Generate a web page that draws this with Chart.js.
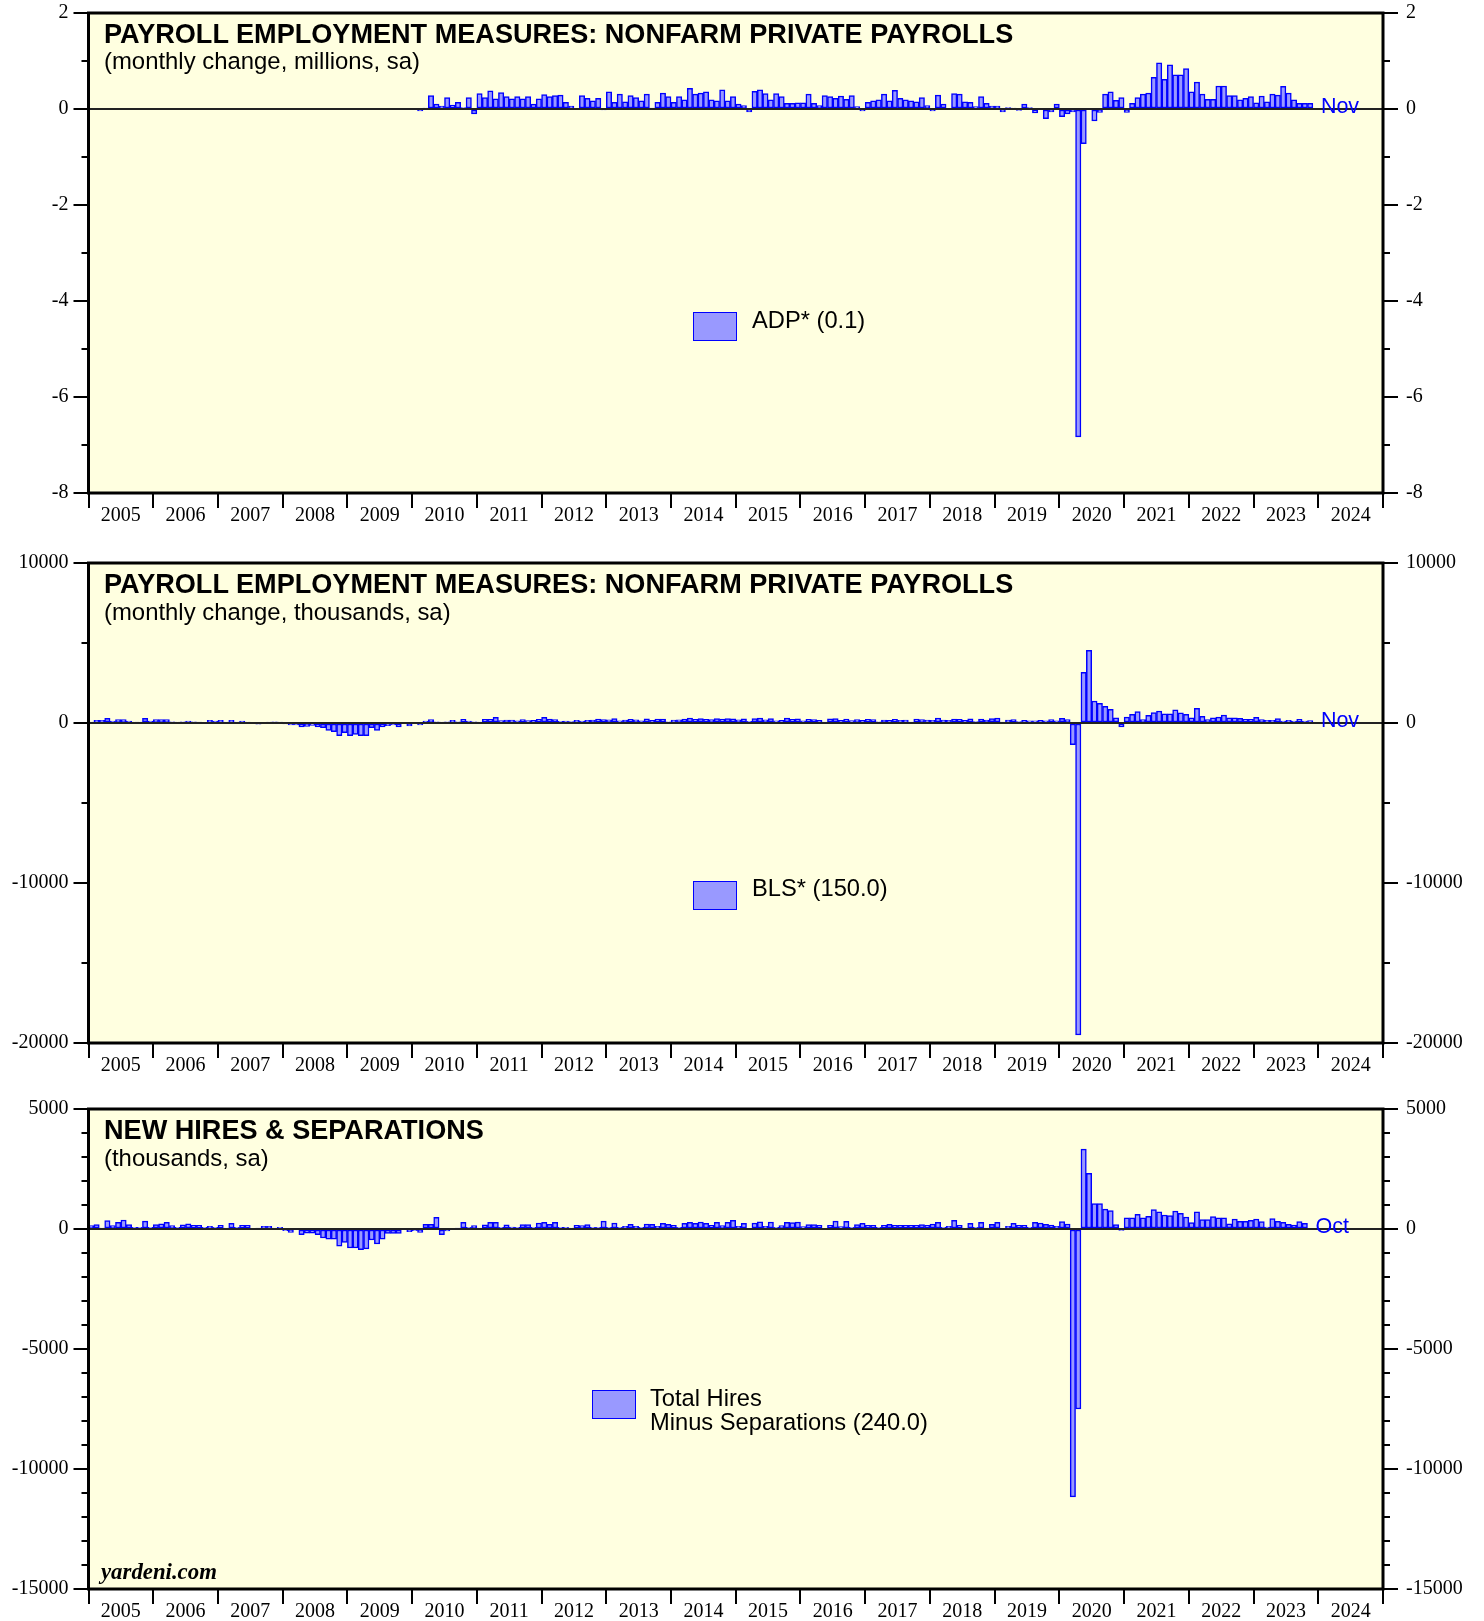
<!DOCTYPE html>
<html>
<head>
<meta charset="utf-8">
<title>Payroll Employment Measures</title>
<script src="https://cdn.jsdelivr.net/npm/chart.js@4.4.1/dist/chart.umd.min.js"></script>
<style>
  html, body { margin: 0; padding: 0; background: #fff; }
  #page { position: relative; width: 1484px; height: 1621px; overflow: hidden; }
  canvas { position: absolute; left: 0; }
  .txt { position: absolute; white-space: nowrap; line-height: 1; font-family: "Liberation Sans", Arial, sans-serif; color: #000; z-index: 2; }
  .titulo { font-size: 27.1px; font-weight: bold; }
  .sub { font-size: 23.9px; }
  .leg { font-size: 23.7px; }
  .caixa { position: absolute; width: 44px; height: 29px; box-sizing: border-box; background: #9999ff; border: 1.5px solid #0000ff; z-index: 2; }
  .marca { font-family: "Liberation Serif", serif; font-weight: bold; font-style: italic; font-size: 22.8px; }
</style>
</head>
<body>
<div id="page">
  <canvas id="grafico-adp" width="1484" height="560" style="top:-17px"></canvas>
  <canvas id="grafico-bls" width="1484" height="560" style="top:532px"></canvas>
  <canvas id="grafico-jolts" width="1484" height="542" style="top:1079px"></canvas>

  <div class="txt titulo" style="left:104px; top:20px">PAYROLL EMPLOYMENT MEASURES: NONFARM PRIVATE PAYROLLS</div>
  <div class="txt sub" style="left:104px; top:49px">(monthly change, millions, sa)</div>
  <div class="caixa" style="left:693px; top:312px"></div>
  <div class="txt leg" style="left:752px; top:309px">ADP* (0.1)</div>

  <div class="txt titulo" style="left:104px; top:570px">PAYROLL EMPLOYMENT MEASURES: NONFARM PRIVATE PAYROLLS</div>
  <div class="txt sub" style="left:104px; top:600px">(monthly change, thousands, sa)</div>
  <div class="caixa" style="left:693px; top:881px"></div>
  <div class="txt leg" style="left:752px; top:877px">BLS* (150.0)</div>

  <div class="txt titulo" style="left:104px; top:1116px">NEW HIRES &amp; SEPARATIONS</div>
  <div class="txt sub" style="left:104px; top:1146px">(thousands, sa)</div>
  <div class="caixa" style="left:592px; top:1390px"></div>
  <div class="txt leg" style="left:650px; top:1387px">Total Hires</div>
  <div class="txt leg" style="left:650px; top:1411px">Minus Separations (240.0)</div>

  <div class="txt marca" style="left:101px; top:1561px">yardeni.com</div>
</div>

<script>
// --- DATA ---
const years = ['2005', '2006', '2007', '2008', '2009', '2010', '2011', '2012', '2013', '2014',
               '2015', '2016', '2017', '2018', '2019', '2020', '2021', '2022', '2023', '2024'];
const months = ['Jan', 'Feb', 'Mar', 'Apr', 'May', 'Jun', 'Jul', 'Aug', 'Sep', 'Oct', 'Nov', 'Dec'];

// ADP private payrolls, monthly change, millions (Feb 2010 - Nov 2023)
const adpStart = 'Feb 2010';
const adpValues = [
  -0.04, 0.02, 0.28, 0.10, 0.06, 0.24, 0.08, 0.14, 0.03, 0.24, -0.10,
  0.32, 0.24, 0.38, 0.21, 0.34, 0.26, 0.21, 0.26, 0.21, 0.26, 0.10, 0.21,
  0.30, 0.26, 0.28, 0.29, 0.14, 0.06, 0.00, 0.28, 0.22, 0.17, 0.22, -0.02,
  0.36, 0.14, 0.31, 0.15, 0.28, 0.24, 0.17, 0.31, 0.01, 0.14, 0.33, 0.26,
  0.14, 0.26, 0.19, 0.43, 0.31, 0.33, 0.36, 0.19, 0.17, 0.40, 0.17, 0.26,
  0.10, 0.07, -0.06, 0.37, 0.40, 0.32, 0.19, 0.32, 0.26, 0.12, 0.12, 0.13,
  0.13, 0.31, 0.12, 0.07, 0.28, 0.26, 0.22, 0.27, 0.20, 0.28, 0.05, -0.04,
  0.14, 0.17, 0.19, 0.31, 0.17, 0.39, 0.22, 0.19, 0.17, 0.15, 0.24, 0.07,
  -0.04, 0.29, 0.10, 0.00, 0.32, 0.31, 0.15, 0.14, 0.05, 0.26, 0.12, 0.06,
  0.06, -0.06, 0.03, 0.02, -0.03, 0.10, 0.03, -0.08, 0.00, -0.20, -0.06, 0.10,
  -0.16, -0.10, -0.06, -6.83, -0.72, 0.00, -0.25, -0.07, 0.31, 0.36, 0.18, 0.24,
  -0.07, 0.12, 0.24, 0.31, 0.33, 0.66, 0.96, 0.62, 0.92, 0.71, 0.71, 0.84,
  0.36, 0.56, 0.31, 0.20, 0.20, 0.48, 0.48, 0.28, 0.28, 0.19, 0.22, 0.26,
  0.13, 0.27, 0.15, 0.31, 0.29, 0.47, 0.33, 0.19, 0.12, 0.12, 0.12
];

// BLS private payrolls, monthly change, thousands (Jan 2005 - Nov 2023)
const blsStart = 'Jan 2005';
const blsValues = [
  40, 170, 170, 290, 125, 210, 210, 125, 40, 40, 290, 125,
  210, 210, 210, 80, 40, 80, 125, 80, 20, 0, 170, 125,
  170, 40, 170, 40, 125, 40, 0, -80, 0, 40, 80, 40,
  -60, -120, -125, -250, -210, -145, -250, -290, -460, -540, -790, -600,
  -790, -710, -790, -790, -290, -460, -250, -170, -125, -250, 0, -190,
  0, -125, 125, 210, 80, 40, 80, 170, 80, 230, 125, 80,
  40, 230, 230, 350, 150, 190, 180, 130, 220, 150, 160, 230,
  350, 250, 220, 100, 120, 90, 170, 120, 170, 190, 240, 220,
  200, 270, 140, 190, 230, 200, 130, 260, 160, 240, 250, 80,
  180, 200, 250, 310, 230, 280, 230, 210, 270, 240, 280, 260,
  200, 260, 100, 270, 310, 200, 270, 140, 160, 300, 230, 260,
  130, 230, 220, 160, 20, 260, 270, 160, 240, 150, 210, 160,
  230, 220, 70, 190, 160, 230, 170, 180, 20, 240, 210, 180,
  170, 310, 180, 170, 250, 230, 160, 260, 90, 250, 190, 280,
  310, 20, 180, 220, 90, 160, 140, 140, 160, 130, 220, 130,
  290, 210, -1360, -19500, 3170, 4540, 1375, 1230, 1040, 850, 330, -250,
  370, 540, 710, 210, 480, 650, 750, 580, 580, 830, 630, 540,
  330, 920, 420, 210, 330, 370, 500, 330, 330, 290, 230, 230,
  350, 210, 170, 170, 270, 120, 170, 120, 230, 120, 150
];

// JOLTS total hires minus separations, thousands (Jan 2005 - Oct 2023)
const joltsStart = 'Jan 2005';
const joltsValues = [
  140, 180, 40, 350, 140, 280, 375, 180, 70, 70, 330, 70,
  180, 220, 280, 140, 70, 170, 220, 150, 150, 70, 110, 70,
  150, 30, 240, 70, 150, 150, 0, 10, 110, 110, 40, 70,
  -70, -140, 0, -240, -170, -170, -240, -375, -420, -420, -720, -560,
  -790, -790, -860, -830, -460, -625, -420, -180, -180, -180, 0, -110,
  -70, -140, 195, 195, 485, -240, -80, 0, 10, 280, 70, 140,
  30, 170, 280, 280, 70, 170, 80, 70, 180, 180, 70, 250,
  280, 195, 280, 70, 70, 30, 150, 140, 180, 70, 70, 330,
  70, 250, 70, 110, 195, 110, 70, 210, 195, 110, 240, 195,
  150, 70, 240, 280, 240, 290, 240, 150, 280, 140, 280, 360,
  110, 240, 0, 250, 300, 110, 290, 70, 140, 280, 265, 290,
  100, 180, 180, 150, 0, 150, 330, 100, 320, 70, 180, 240,
  150, 150, 70, 150, 195, 150, 150, 150, 150, 150, 180, 150,
  210, 280, 70, 110, 360, 150, 30, 240, 70, 280, 30, 195,
  280, 0, 110, 240, 150, 150, 70, 280, 250, 195, 165, 110,
  305, 210, -11160, -7500, 3330, 2320, 1055, 1055, 830, 765, 180, -55,
  470, 470, 610, 470, 530, 805, 720, 585, 555, 750, 655, 500,
  265, 720, 390, 390, 515, 470, 470, 220, 415, 320, 320, 360,
  415, 305, 85, 430, 320, 280, 195, 165, 305, 240
];

// --- MONTHLY CATEGORIES ---
const monthLabels = years.flatMap(y => months.map(m => m + ' ' + y));

function alignSeries(start, values) {
  const offset = monthLabels.indexOf(start);
  return new Array(offset).fill(null).concat(values);
}

// --- PANEL DECORATION (background, border, zero line, minor ticks, last month) ---
const panelDecor = {
  id: 'panelDecor',
  beforeDraw(chart) {
    const { ctx, chartArea: a } = chart;
    ctx.save();
    ctx.fillStyle = '#ffffe0';
    ctx.fillRect(a.left, a.top, a.right - a.left, a.bottom - a.top);
    ctx.restore();
  },
  afterDatasetsDraw(chart) {
    const { ctx, chartArea: a } = chart;
    const y0 = chart.scales.y.getPixelForValue(0);
    ctx.save();
    ctx.strokeStyle = '#222';
    ctx.lineWidth = 2;
    ctx.beginPath();
    ctx.moveTo(a.left, y0);
    ctx.lineTo(a.right, y0);
    ctx.stroke();
    ctx.restore();
  },
  afterDraw(chart, args, opts) {
    const { ctx, chartArea: a } = chart;
    const yScale = chart.scales.y;
    const xScale = chart.scales.x;
    ctx.save();

    // minor ticks on both sides
    ctx.strokeStyle = '#000';
    ctx.lineWidth = 2;
    for (let v = yScale.min; v <= yScale.max; v += opts.minorStep) {
      if (Math.abs(v % opts.majorStep) < 1e-9) continue;
      const py = yScale.getPixelForValue(v);
      ctx.beginPath();
      ctx.moveTo(a.left - 7, py);
      ctx.lineTo(a.left, py);
      ctx.moveTo(a.right, py);
      ctx.lineTo(a.right + 7, py);
      ctx.stroke();
    }

    // panel frame
    ctx.lineWidth = 3;
    ctx.strokeRect(a.left, a.top, a.right - a.left, a.bottom - a.top);

    // label after the last month
    const data = chart.data.datasets[0].data;
    let last = data.length - 1;
    while (last > 0 && data[last] === null) last--;
    const step = xScale.getPixelForValue(1) - xScale.getPixelForValue(0);
    const px = xScale.getPixelForValue(last) + step / 2 + 8;
    ctx.fillStyle = '#0000ff';
    ctx.font = '21.5px "Liberation Sans", Arial, sans-serif';
    ctx.textAlign = 'left';
    ctx.textBaseline = 'alphabetic';
    ctx.fillText(opts.lastLabel, px, yScale.getPixelForValue(0) + 3.5);
    ctx.restore();
  }
};

// --- CHART FACTORY ---
const tickFont = { family: '"Liberation Serif", "Times New Roman", serif', size: 20 };

function renderPanel(canvasId, series, cfg) {
  const ctx = document.getElementById(canvasId).getContext('2d');
  return new Chart(ctx, {
    type: 'bar',
    data: {
      labels: monthLabels,
      datasets: [{
        data: series,
        backgroundColor: '#9999ff',
        borderColor: '#0000ff',
        borderWidth: 1.5,
        borderSkipped: false,
        barPercentage: 1,
        categoryPercentage: 1
      }]
    },
    options: {
      responsive: false,
      devicePixelRatio: 1,
      animation: false,
      layout: { padding: { top: cfg.top, left: 0, right: 0, bottom: 0 } },
      plugins: {
        legend: { display: false },
        tooltip: { enabled: false },
        panelDecor: { minorStep: cfg.minor, majorStep: cfg.major, lastLabel: cfg.lastLabel }
      },
      scales: {
        x: { display: false, offset: true },
        xYears: {
          type: 'category',
          labels: years,
          position: 'bottom',
          offset: true,
          afterFit: s => { s.height = cfg.axisHeight; },
          grid: { offset: true, drawOnChartArea: false, color: '#000', lineWidth: 2, tickLength: 15 },
          border: { display: false },
          ticks: { color: '#000', padding: -4, autoSkip: false, maxRotation: 0, font: tickFont }
        },
        y: {
          position: 'left',
          min: cfg.min,
          max: cfg.max,
          afterFit: s => { s.width = 88.5; },
          grid: { drawOnChartArea: false, color: '#000', lineWidth: 2, tickLength: 15 },
          border: { display: false },
          ticks: { stepSize: cfg.major, padding: 5, color: '#000', font: tickFont, callback: v => String(v) }
        },
        y2: {
          type: 'linear',
          position: 'right',
          min: cfg.min,
          max: cfg.max,
          afterFit: s => { s.width = 101; },
          grid: { drawOnChartArea: false, color: '#000', lineWidth: 2, tickLength: 15 },
          border: { display: false },
          ticks: { stepSize: cfg.major, padding: 8, color: '#000', font: tickFont, callback: v => String(v) }
        }
      }
    },
    plugins: [panelDecor]
  });
}

// canvases start ~30px above each panel so the top padding is not overridden by label room
renderPanel('grafico-adp', alignSeries(adpStart, adpValues),
  { top: 30, axisHeight: 50, min: -8, max: 2, major: 2, minor: 1, lastLabel: 'Nov' });
renderPanel('grafico-bls', alignSeries(blsStart, blsValues),
  { top: 31, axisHeight: 49, min: -20000, max: 10000, major: 10000, minor: 5000, lastLabel: 'Nov' });
renderPanel('grafico-jolts', alignSeries(joltsStart, joltsValues),
  { top: 30, axisHeight: 32, min: -15000, max: 5000, major: 5000, minor: 1000, lastLabel: 'Oct' });
</script>
</body>
</html>
